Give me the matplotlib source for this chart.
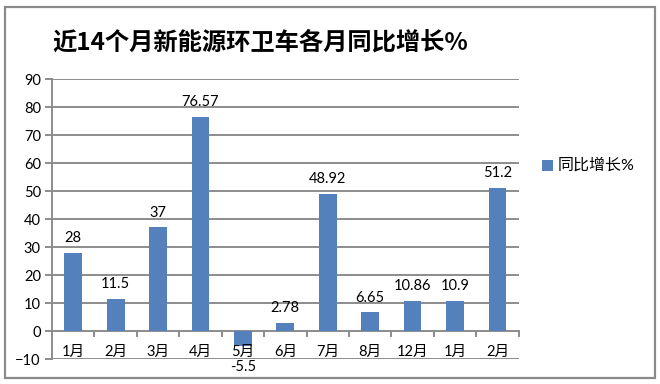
import matplotlib.pyplot as plt
from matplotlib.patches import Rectangle

plt.rcParams['font.family'] = ['Lato', 'Noto Sans CJK SC', 'DejaVu Sans']

# data
months = ["1月", "2月", "3月", "4月", "5月", "6月", "7月", "8月", "12月", "1月", "2月"]
growth = [28, 11.5, 37, 76.57, -5.5, 2.78, 48.92, 6.65, 10.86, 10.9, 51.2]
value_labels = ["28", "11.5", "37", "76.57", "-5.5", "2.78", "48.92", "6.65", "10.86", "10.9", "51.2"]

bar_color = '#5480BC'
grid_color = '#8c8c8c'

fig = plt.figure(figsize=(6.6, 3.84), dpi=100)
# outer chart border
fig.patches.append(Rectangle((0.007, 0.016), 0.985, 0.967, transform=fig.transFigure,
                             fill=False, edgecolor='#8a8a8a', linewidth=1.6))

ax = fig.add_axes([0.0788, 0.065, 0.707, 0.729])
x = list(range(len(months)))
ax.bar(x, growth, width=0.42, color=bar_color, zorder=3, label="同比增长%")

ax.set_ylim(-10, 90)
ax.set_xlim(-0.5, len(months) - 0.5)
ax.set_yticks(range(-10, 91, 10))
for v in range(-10, 91, 10):
    ax.axhline(v, color=grid_color, linewidth=1.4, zorder=1)

for s in ['top', 'right', 'bottom']:
    ax.spines[s].set_visible(False)
ax.spines['left'].set_color(grid_color)
ax.spines['left'].set_linewidth(1.4)
ax.tick_params(axis='y', length=5, width=1.4, color=grid_color, labelsize=10.5, pad=3)
ax.tick_params(axis='x', length=0, labelbottom=False)

# category ticks on the zero line
for b in [i - 0.5 for i in range(len(months) + 1)]:
    ax.plot([b, b], [0, -1.6], color=grid_color, linewidth=1.4, zorder=2, clip_on=False)

# category labels just above the bottom line
for i, m in enumerate(months):
    ax.text(i, -7.6, m, ha='center', va='center', fontsize=10.5, zorder=4)

# value labels
for i, (v, t) in enumerate(zip(growth, value_labels)):
    if v >= 0:
        ax.text(i, v + 5.3, t, ha='center', va='center', fontsize=10.5)
    else:
        ax.text(i, v - 7.5, t, ha='center', va='center', fontsize=10.5)

fig.text(0.395, 0.888, "近14个月新能源环卫车各月同比增长%", ha='center', va='center',
         fontsize=17.5, fontweight='bold', family=['Noto Sans CJK SC', 'DejaVu Sans'])

# legend
fig.patches.append(Rectangle((0.821, 0.555), 0.017, 0.029, transform=fig.transFigure,
                             facecolor=bar_color, edgecolor='none'))
fig.text(0.845, 0.569, "同比增长%", ha='left', va='center', fontsize=11.5)

fig.savefig('out.png', dpi=100)
